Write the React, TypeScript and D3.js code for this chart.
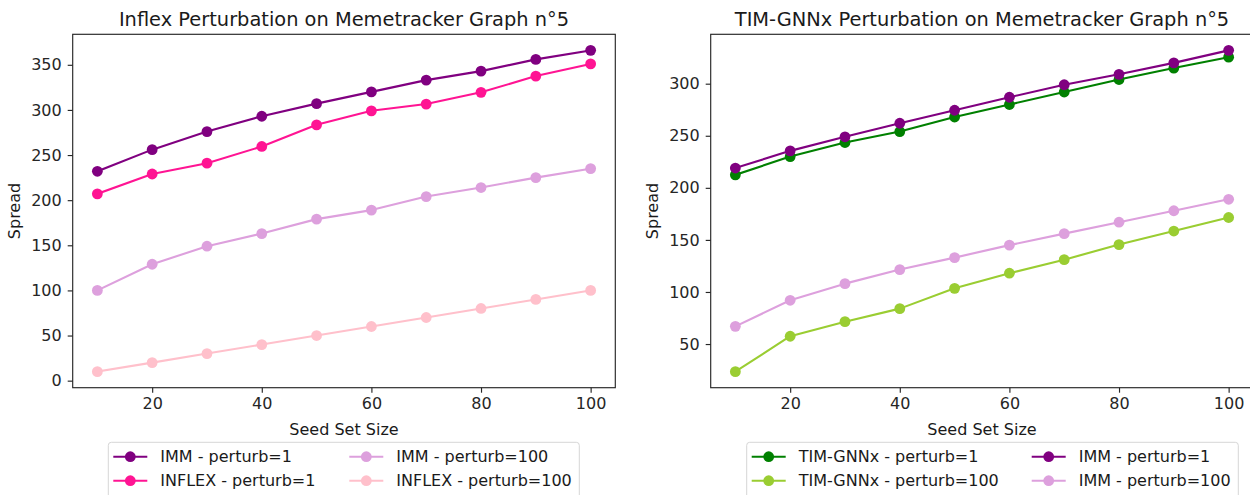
import { useEffect, useRef } from 'react';
import * as d3 from 'd3';

// seed set sizes shared by both panels
const seedSizes = [10, 20, 30, 40, 50, 60, 70, 80, 90, 100];

// left panel: Inflex perturbation
const inflexImmPerturb1 = [232, 256, 276, 293, 307, 320, 333, 343, 356, 366];
const inflexPerturb1 = [207, 229, 241, 259.5, 283.5, 299, 306.5, 319.5, 337.5, 351];
const inflexImmPerturb100 = [100, 129, 149, 163, 179, 189, 204, 214, 225, 235];
const inflexPerturb100 = [10, 20, 30, 40, 50, 60, 70, 80, 90, 100];

// right panel: TIM-GNNx perturbation
const timPerturb1 = [212.5, 230, 243.5, 254, 268, 280, 292, 304, 315, 325.5];
const timPerturb100 = [23.5, 57.5, 71.5, 84, 103.5, 118, 131, 145.5, 158.5, 171.5];
const timImmPerturb1 = [219, 235.5, 249, 262, 274.5, 287, 299, 309, 320, 332];
const timImmPerturb100 = [67, 92, 108, 121.5, 133, 145, 156, 167, 178, 189];

const xTicks = [20, 40, 60, 80, 100];
const leftYTicks = [0, 50, 100, 150, 200, 250, 300, 350];
const rightYTicks = [50, 100, 150, 200, 250, 300];

const FONT = "'DejaVu Sans', sans-serif";
const FS = 16;

export default function App() {
  const svgRef = useRef(null);

  useEffect(() => {
    const width = 1250;
    const height = 495;
    const svg = d3.select(svgRef.current)
      .attr("width", width)
      .attr("height", height);
    svg.selectAll("*").remove();

    const panels = [
      {
        title: 'Inflex Perturbation on Memetracker Graph n°5',
        x0: 72.7, x1: 615.3,
        yTicks: leftYTicks,
        yLabelX: 20,
        series: [
          { name: 'IMM - perturb=1', color: '#800080', values: inflexImmPerturb1 },
          { name: 'INFLEX - perturb=1', color: '#ff1493', values: inflexPerturb1 },
          { name: 'IMM - perturb=100', color: '#dda0dd', values: inflexImmPerturb100 },
          { name: 'INFLEX - perturb=100', color: '#ffc0cb', values: inflexPerturb100 },
        ],
        legend: { x: 108.3, w: 471, col2: 236 },
      },
      {
        title: 'TIM-GNNx Perturbation on Memetracker Graph n°5',
        x0: 710.7, x1: 1253.3,
        yTicks: rightYTicks,
        yLabelX: 658,
        series: [
          { name: 'TIM-GNNx - perturb=1', color: '#008000', values: timPerturb1 },
          { name: 'TIM-GNNx - perturb=100', color: '#9acd32', values: timPerturb100 },
          { name: 'IMM - perturb=1', color: '#800080', values: timImmPerturb1 },
          { name: 'IMM - perturb=100', color: '#dda0dd', values: timImmPerturb100 },
        ],
        legend: { x: 746.7, w: 491.6, col2: 280 },
      },
    ];

    const y0 = 34.3;
    const y1 = 387.7;

    panels.forEach(p => {
      const g = svg.append("g");

      const xScale = d3.scaleLinear()
        .domain([5.5, 104.5])
        .range([p.x0, p.x1]);

      const all = p.series.flatMap(s => s.values);
      const [lo, hi] = d3.extent(all);
      const pad = (hi - lo) * 0.05;
      const yScale = d3.scaleLinear()
        .domain([lo - pad, hi + pad])
        .range([y1, y0]);

      // lines + markers
      const line = d3.line()
        .x((d, i) => xScale(seedSizes[i]))
        .y(d => yScale(d));

      p.series.forEach(s => {
        g.append("path")
          .datum(s.values)
          .attr("d", line)
          .attr("fill", "none")
          .attr("stroke", s.color)
          .attr("stroke-width", 2.1)
          .attr("stroke-linejoin", "round")
          .attr("stroke-linecap", "square");
        g.selectAll(null)
          .data(s.values)
          .join("circle")
          .attr("cx", (d, i) => xScale(seedSizes[i]))
          .attr("cy", d => yScale(d))
          .attr("r", 5.4)
          .attr("fill", s.color);
      });

      // frame
      g.append("rect")
        .attr("x", p.x0)
        .attr("y", y0)
        .attr("width", p.x1 - p.x0)
        .attr("height", y1 - y0)
        .attr("fill", "none")
        .attr("stroke", "#262626")
        .attr("stroke-width", 1.15);

      // x axis
      const xAxis = g.append("g")
        .attr("transform", `translate(0,${y1})`)
        .call(d3.axisBottom(xScale).tickValues(xTicks).tickSize(5).tickPadding(5).tickSizeOuter(0));
      xAxis.select(".domain").remove();
      xAxis.selectAll("line").attr("stroke", "#262626").attr("stroke-width", 1.15);
      xAxis.selectAll("text")
        .attr("font-family", FONT)
        .attr("font-size", FS)
        .attr("fill", "#262626");

      // y axis
      const yAxis = g.append("g")
        .attr("transform", `translate(${p.x0},0)`)
        .call(d3.axisLeft(yScale).tickValues(p.yTicks).tickSize(5).tickPadding(6).tickSizeOuter(0));
      yAxis.select(".domain").remove();
      yAxis.selectAll("line").attr("stroke", "#262626").attr("stroke-width", 1.15);
      yAxis.selectAll("text")
        .attr("font-family", FONT)
        .attr("font-size", FS)
        .attr("fill", "#262626");

      const cx = (p.x0 + p.x1) / 2;

      g.append("text")
        .attr("x", cx)
        .attr("y", 25.7)
        .attr("text-anchor", "middle")
        .attr("font-family", FONT)
        .attr("font-size", 19.4)
        .attr("fill", "#1a1a1a")
        .text(p.title);

      g.append("text")
        .attr("x", cx)
        .attr("y", 435)
        .attr("text-anchor", "middle")
        .attr("font-family", FONT)
        .attr("font-size", FS)
        .attr("fill", "#1a1a1a")
        .text("Seed Set Size");

      g.append("text")
        .attr("transform", `translate(${p.yLabelX},${(y0 + y1) / 2}) rotate(-90)`)
        .attr("text-anchor", "middle")
        .attr("font-family", FONT)
        .attr("font-size", FS)
        .attr("fill", "#1a1a1a")
        .text("Spread");

      // legend
      const lg = g.append("g");
      lg.append("rect")
        .attr("x", p.legend.x)
        .attr("y", 442.3)
        .attr("width", p.legend.w)
        .attr("height", 62)
        .attr("rx", 3)
        .attr("fill", "white")
        .attr("fill-opacity", 0.8)
        .attr("stroke", "#d6d6d6")
        .attr("stroke-width", 1);

      p.series.forEach((s, i) => {
        const col = Math.floor(i / 2);
        const row = i % 2;
        const hx = p.legend.x + 5 + col * p.legend.col2;
        const ry = 456.7 + row * 24;
        lg.append("line")
          .attr("x1", hx)
          .attr("x2", hx + 34)
          .attr("y1", ry)
          .attr("y2", ry)
          .attr("stroke", s.color)
          .attr("stroke-width", 2.1);
        lg.append("circle")
          .attr("cx", hx + 17)
          .attr("cy", ry)
          .attr("r", 5.4)
          .attr("fill", s.color);
        lg.append("text")
          .attr("x", hx + 47)
          .attr("y", ry)
          .attr("dy", "0.36em")
          .attr("font-family", FONT)
          .attr("font-size", FS)
          .attr("fill", "#1a1a1a")
          .text(s.name);
      });
    });
  }, []);

  return (
    <div style={{ position: 'absolute', left: 0, top: 0, width: 1250, height: 495, overflow: 'hidden', background: 'white' }}>
      <svg ref={svgRef} style={{ display: 'block' }}></svg>
    </div>
  );
}
